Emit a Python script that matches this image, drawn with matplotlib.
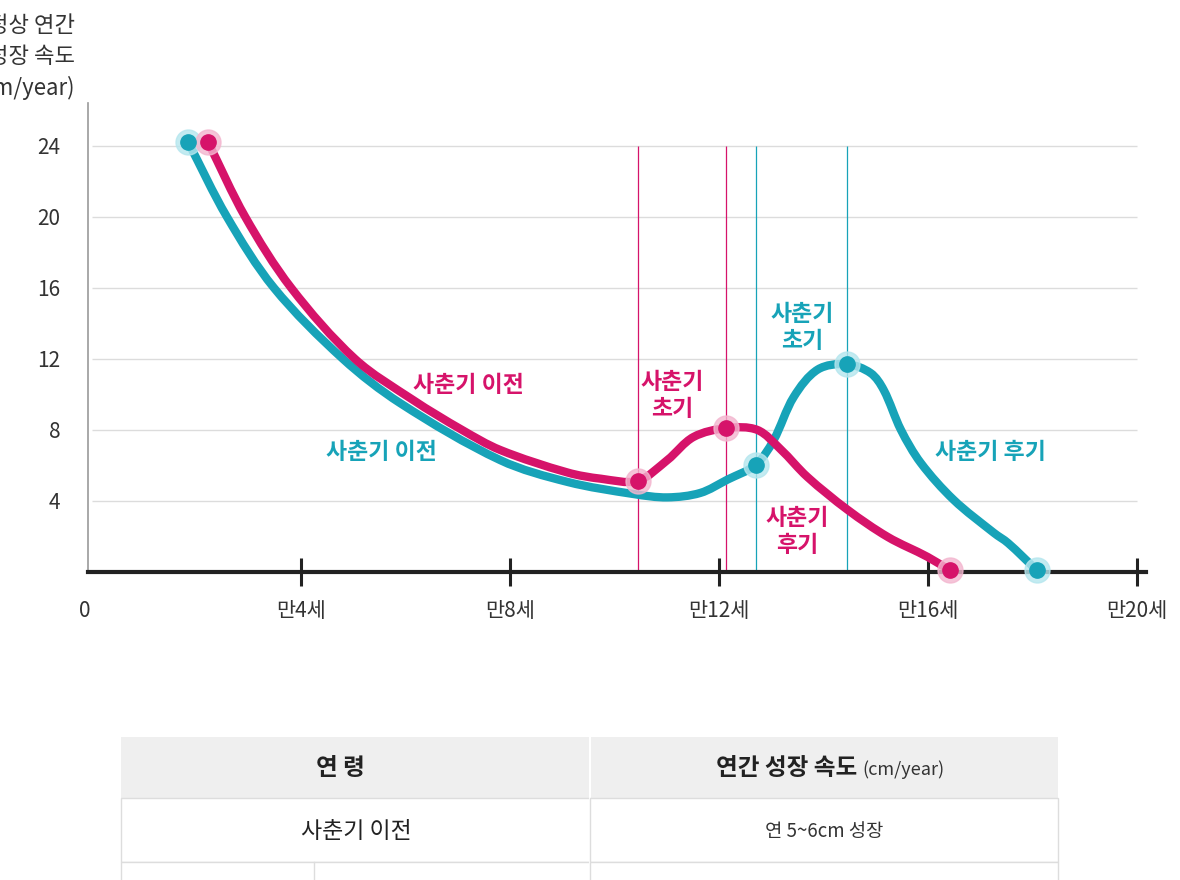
import numpy as np
import matplotlib.pyplot as plt
from matplotlib.patches import Rectangle, PathPatch
from matplotlib.path import Path
from matplotlib.transforms import ScaledTranslation

plt.rcParams['font.family'] = ['Noto Sans CJK KR', 'DejaVu Sans']

PINK = '#d6136a'
PINK_HALO = '#f3b6cf'
TEAL = '#17a3b8'
TEAL_HALO = '#b5e6ee'
GRID = '#dcdcdc'

# (age in years, cm/year)
teal_x = [1.84, 2.58, 3.48, 4.8, 5.9, 7.81, 9.1, 10.36, 11.01, 11.64, 12.16, 12.7,
          13.04, 13.43, 13.89, 14.44, 14.9, 15.15, 15.48, 15.86, 16.49, 17.26, 17.53, 18.08]
teal_y = [24.2, 20, 16, 12, 9.5, 6.3, 5.07, 4.39, 4.2, 4.45, 5.2, 6.03,
          7.4, 9.86, 11.4, 11.7, 11.2, 10.25, 8, 6.14, 4.06, 2.2, 1.63, 0.1]
pink_x = [2.22, 2.93, 3.81, 5.03, 6.14, 7.08, 7.81, 9.1, 9.74, 10.44, 11.01, 11.51, 12.14,
          12.73, 13.18, 13.69, 14.46, 15.23, 15.99, 16.41]
pink_y = [24.2, 20, 16, 12, 9.69, 8, 6.87, 5.6, 5.25, 5.13, 6.3, 7.6, 8.1,
          8.0, 6.9, 5.35, 3.5, 1.97, 0.85, 0.1]

teal_mx = [1.84, 12.7, 14.44, 18.08]
teal_my = [24.2, 6.03, 11.7, 0.1]
pink_mx = [2.22, 10.44, 12.14, 16.41]
pink_my = [24.2, 5.13, 8.1, 0.1]

teal_vlines = [12.7, 14.44]
pink_vlines = [10.44, 12.14]

y_ticks = [4, 8, 12, 16, 20, 24]
x_ticks = [0, 4, 8, 12, 16, 20]
x_labels = ['0', '만4세', '만8세', '만12세', '만16세', '만20세']


def smooth_path(xs, ys):
    # curve through the read points (cubic pieces, chord-length tangents)
    p = np.column_stack([xs, ys]).astype(float)
    sc = np.array([52.25, 17.75])
    d = np.sqrt((((p[1:] - p[:-1]) * sc) ** 2).sum(axis=1))
    t = np.concatenate([[0], np.cumsum(d)])
    m = np.zeros_like(p)
    m[1:-1] = (p[2:] - p[:-2]) / (t[2:] - t[:-2])[:, None]
    m[0] = (p[1] - p[0]) / d[0]
    m[-1] = (p[-1] - p[-2]) / d[-1]
    verts = [p[0]]
    codes = [Path.MOVETO]
    for i in range(len(p) - 1):
        h = d[i] / 3
        verts += [p[i] + m[i] * h, p[i + 1] - m[i + 1] * h, p[i + 1]]
        codes += [Path.CURVE4] * 3
    return Path(verts, codes)


fig = plt.figure(figsize=(11.8, 8.8), dpi=100)
ax = fig.add_axes([88 / 1180, 1 - 572 / 880, (1146 - 88) / 1180, (572 - 103) / 880])
ax.set_xlim(-0.077, 20.17)
ax.set_ylim(0, 26.4)

ax.hlines(y_ticks, 0, 20, color=GRID, lw=1, zorder=1)
ax.vlines(pink_vlines, 0, 24, color=PINK, lw=0.9, zorder=2)
ax.vlines(teal_vlines, 0, 24, color=TEAL, lw=0.9, zorder=2)

ax.add_patch(PathPatch(smooth_path(teal_x, teal_y), fill=False, edgecolor=TEAL, lw=6,
                       capstyle='round', joinstyle='round', zorder=4))
ax.add_patch(PathPatch(smooth_path(pink_x, pink_y), fill=False, edgecolor=PINK, lw=6,
                       capstyle='round', joinstyle='round', zorder=5))
ax.plot(teal_mx, teal_my, 'o', ms=18, color=TEAL_HALO, alpha=0.8, zorder=6, clip_on=False)
ax.plot(teal_mx, teal_my, 'o', ms=11, color=TEAL, zorder=7, clip_on=False)
ax.plot(pink_mx, pink_my, 'o', ms=18, color=PINK_HALO, alpha=0.8, zorder=6, clip_on=False)
ax.plot(pink_mx, pink_my, 'o', ms=11, color=PINK, zorder=7, clip_on=False)

lab = dict(fontsize=16.5, fontweight='bold', ha='center', va='center', linespacing=1.2, zorder=8)
ax.text(7.2, 10.5, '사춘기 이전', color=PINK, **lab)
ax.text(5.53, 6.7, '사춘기 이전', color=TEAL, **lab)
ax.text(11.1, 9.9, '사춘기\n초기', color=PINK, **lab)
ax.text(13.59, 13.75, '사춘기\n초기', color=TEAL, **lab)
ax.text(13.5, 2.25, '사춘기\n후기', color=PINK, **lab)
ax.text(17.2, 6.7, '사춘기 후기', color=TEAL, **lab)

for s in ['top', 'right']:
    ax.spines[s].set_visible(False)
ax.spines['left'].set_color('#999999')
ax.spines['left'].set_linewidth(1.2)
ax.spines['bottom'].set_color('#222222')
ax.spines['bottom'].set_linewidth(3)
ax.spines['bottom'].set_zorder(3)

ax.set_yticks(y_ticks)
ax.tick_params(axis='y', length=0, pad=20, labelsize=15, labelcolor='#333333')
ax.set_xticks(x_ticks)
ax.set_xticklabels(x_labels)
ax.tick_params(axis='x', direction='inout', length=20, width=2.2, color='#222222',
               pad=10, labelsize=15, labelcolor='#333333')
ax.xaxis.get_major_ticks()[0].tick1line.set_visible(False)
zero = ax.get_xticklabels()[0]
zero.set_transform(zero.get_transform() + ScaledTranslation(-7 / 100, 0, fig.dpi_scale_trans))

fig.text(75 / 1180, 1 - 57 / 880, '정상 연간\n성장 속도\n(cm/year)', ha='right', va='center',
         fontsize=16, color='#333333', linespacing=1.45)

# table under the chart, in pixel coordinates
tb = fig.add_axes([0, 0, 1, 1], zorder=-1)
tb.set_xlim(0, 1180)
tb.set_ylim(880, 0)
tb.axis('off')
line = '#dddddd'
tb.add_patch(Rectangle((121, 737), 937, 61, facecolor='#efefef', edgecolor='none'))
tb.add_patch(Rectangle((121, 798), 937, 64, facecolor='white', edgecolor=line, lw=1))
tb.add_patch(Rectangle((121, 862), 937, 40, facecolor='white', edgecolor=line, lw=1))
tb.plot([590, 590], [737, 880], color='white', lw=1.5)
tb.plot([590, 590], [798, 880], color=line, lw=1)
tb.plot([314, 314], [862, 880], color=line, lw=1)
tb.text(340, 768, '연 령', ha='center', va='center', fontsize=17, fontweight='bold', color='#222222')
tb.text(857, 768, '연간 성장 속도', ha='right', va='center', fontsize=17, fontweight='bold', color='#222222')
tb.text(862, 770, '(cm/year)', ha='left', va='center', fontsize=13, color='#333333')
tb.text(356, 831, '사춘기 이전', ha='center', va='center', fontsize=16.5, color='#222222')
tb.text(824, 831, '연 5~6cm 성장', ha='center', va='center', fontsize=13.5, color='#333333')

fig.savefig('out.png', dpi=100)
